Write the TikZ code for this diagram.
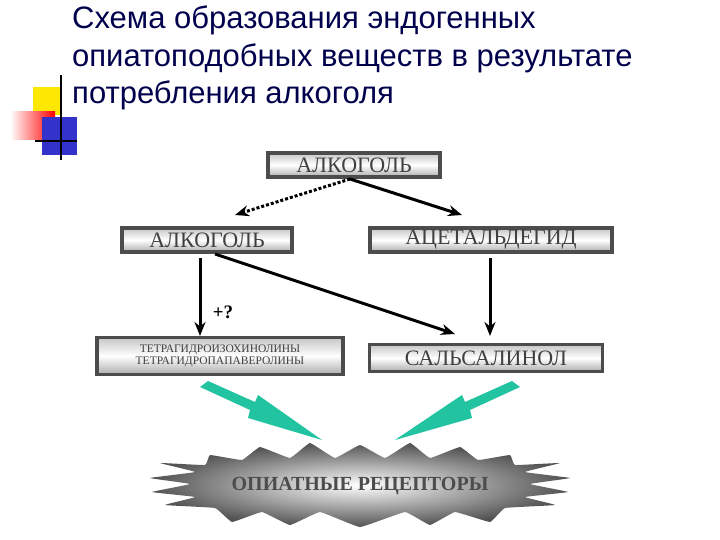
\documentclass[tikz,border=0pt]{standalone}
\usepackage{fontspec}
\setmainfont{Liberation Serif}
\newfontfamily\titlefont{Liberation Sans}
\usetikzlibrary{arrows.meta,shadings}
\definecolor{gr}{HTML}{22C3A0}
\begin{document}
\begin{tikzpicture}[x=1pt,y=-1pt,
  gbox/.style={draw=gray!60!black,line width=3.5pt,inner sep=0pt,
    top color=gray!45,bottom color=gray!65,middle color=white,
    font=\fontsize{22}{22}\selectfont,text=black!75},
  arr/.style={-{Stealth[length=14pt,width=11pt]},line width=3pt},
  garrow/.style={fill=gr,draw=none}]
\useasboundingbox (0,0) rectangle (720,540);
% decoration
\fill[yellow!90!orange] (33,87) rectangle (60,115);
\shade[left color=white,right color=red] (10,112) rectangle (55,140);
\fill[blue!75!black!80] (42,117) rectangle (77,155);
\draw[line width=1.5pt] (61,75) -- (61,160);
\draw[line width=1.5pt] (35,141) -- (77,141);
% title
\node[anchor=north west,align=left,inner sep=0pt,text=blue!30!black,
  font=\titlefont\fontsize{31}{37.5}\selectfont] (title) at (72,6)
  {Схема образования эндогенных\\опиатоподобных веществ в результате\\потребления алкоголя};
% boxes
\node[gbox,minimum width=172pt,minimum height=24pt] (a1) at (354,165) {АЛКОГОЛЬ};
\node[gbox,minimum width=170pt,minimum height=24pt] (a2) at (207,240) {АЛКОГОЛЬ};
\node[gbox,minimum width=242pt,minimum height=24pt] (ac) at (491,240) {АЦЕТАЛЬДЕГИД};
\node[gbox,minimum width=246pt,minimum height=37pt,align=center,
  font=\fontsize{11.5}{12}\selectfont] (th) at (220,356) {ТЕТРАГИДРОИЗОХИНОЛИНЫ\\ТЕТРАГИДРОПАПАВЕРОЛИНЫ};
\node[gbox,minimum width=233pt,minimum height=27pt] (sal) at (486,358) {САЛЬСАЛИНОЛ};
% connectors
\coordinate (d1) at (235,215);
\coordinate (d2) at (462,215);
\coordinate (e1) at (455,334);
\draw[arr,dash pattern=on 3pt off 2pt] (350,179) -- (d1);
\draw[arr] (350,179) -- (d2);
\draw[arr] (200,258) -- (200,336) node[pos=0.7,right=8pt,font=\bfseries\fontsize{19}{19}\selectfont] (q) {+?};
\draw[arr] (215,254) -- (e1);
\draw[arr] (490,258) -- (490,336);
% starburst
\shade[inner color=white,outer color=gray!65!black]
  plot[smooth cycle,tension=0.15] coordinates {
  (360,445) (385,458) (410,443) (430,458) (460,447) (478,460) (510,455) (515,465) (560,463) (525,472)
  (570,478) (530,484) (568,492) (525,497) (555,505) (505,508) (490,522) (455,512) (430,525) (405,512)
  (360,527) (320,512) (290,525) (262,512) (232,522) (215,508) (165,505) (195,497) (152,492) (190,484)
  (150,478) (195,472) (160,463) (205,465) (210,455) (242,460) (260,447) (290,458) (310,443) (335,458)};
\node[font=\bfseries\fontsize{20}{20}\selectfont,text=black!70] (rec) at (360,486) {ОПИАТНЫЕ РЕЦЕПТОРЫ};
% green arrows
\fill[garrow] (200,387) -- (208,381) -- (255,402) -- (258,395) -- (322,440) -- (248,418) -- (250,410) -- cycle;
\fill[garrow] (520,387) -- (512,381) -- (465,402) -- (462,395) -- (395,440) -- (472,418) -- (470,410) -- cycle;
\end{tikzpicture}
\end{document}
